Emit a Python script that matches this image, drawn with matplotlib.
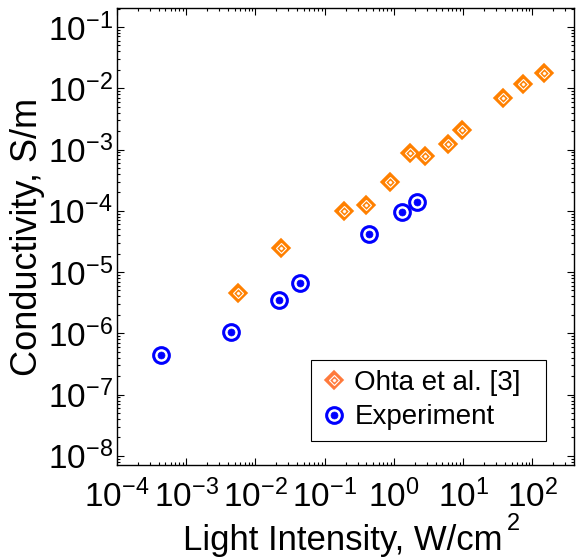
import matplotlib
matplotlib.use("Agg")
import matplotlib.pyplot as plt
from matplotlib.ticker import LogLocator, NullFormatter
from matplotlib.legend_handler import HandlerTuple

plt.rcParams['font.family'] = ['Liberation Sans', 'DejaVu Sans']
plt.rcParams['mathtext.fontset'] = 'custom'
plt.rcParams['mathtext.rm'] = 'Liberation Sans'
plt.rcParams['mathtext.it'] = 'Liberation Sans:italic'
plt.rcParams['mathtext.bf'] = 'Liberation Sans:bold'

# Ohta et al. [3] data (light intensity W/cm^2, conductivity S/m)
ohta_x = [0.0056, 0.0231, 0.19, 0.40, 0.87, 1.7, 2.84, 5.97, 9.7, 37.2, 72, 148]
ohta_y = [4.5e-6, 2.5e-5, 9.9e-5, 1.22e-4, 2.9e-4, 8.7e-4, 7.9e-4, 1.24e-3,
          2.1e-3, 7.0e-3, 1.16e-2, 1.78e-2]

# Experiment data
exp_x = [4.3e-4, 4.37e-3, 0.0218, 0.0434, 0.43, 1.29, 2.17]
exp_y = [4.5e-7, 1.07e-6, 3.5e-6, 6.6e-6, 4.2e-5, 9.5e-5, 1.4e-4]

orange = '#ff8000'
orange_leg = '#ff7a3c'
blue = '#0000ff'

fig = plt.figure(figsize=(5.76, 5.6), dpi=100)
ax = fig.add_axes([0.203, 0.1696, 0.7935, 0.8161])


def diamond(ax, x, y, col):
    a, = ax.plot(x, y, ls='none', marker='D', ms=9.5, mfc=col, mec=col, mew=1.2)
    b, = ax.plot(x, y, ls='none', marker='D', ms=5.5, mfc='none', mec='white', mew=0.8)
    c, = ax.plot(x, y, ls='none', marker='D', ms=1.6, mfc='white', mec='white', mew=0.5)
    return (a, b, c)


def ring(ax, x, y):
    a, = ax.plot(x, y, ls='none', marker='o', ms=11.3, mfc='white', mec=blue, mew=2.2)
    b, = ax.plot(x, y, ls='none', marker='o', ms=5, mfc=blue, mec=blue, mew=0.5)
    return (a, b)


diamond(ax, ohta_x, ohta_y, orange)
ring(ax, exp_x, exp_y)

# legend-only handles (legend diamond is drawn a bit lighter in the original)
h_ohta = diamond(ax, [], [], orange_leg)
h_exp = ring(ax, [], [])

ax.set_xscale('log')
ax.set_yscale('log')
ax.set_xlim(1e-4, 10 ** 2.6)
ax.set_ylim(10 ** -8.15, 10 ** -0.69)

ax.xaxis.set_major_locator(LogLocator(base=10, numticks=20))
ax.yaxis.set_major_locator(LogLocator(base=10, numticks=20))
ax.xaxis.set_minor_locator(LogLocator(base=10, subs=range(2, 10), numticks=20))
ax.yaxis.set_minor_locator(LogLocator(base=10, subs=range(2, 10), numticks=20))
ax.xaxis.set_minor_formatter(NullFormatter())
ax.yaxis.set_minor_formatter(NullFormatter())

ax.tick_params(which='both', direction='in', top=True, right=True,
               labelsize=24, width=0.8)
ax.tick_params(which='major', length=5)
ax.tick_params(which='minor', length=2.5)
ax.tick_params(axis='x', which='major', pad=10.5)
ax.tick_params(axis='y', which='major', pad=3)
for s in ax.spines.values():
    s.set_linewidth(1.0)

# x label with the raised "2" placed separately, as in the original
fig.text(0.5946, 0.0179, 'Light Intensity, W/cm', fontsize=25,
         ha='center', va='baseline')
fig.text(0.880, 0.0536, '2', fontsize=17, ha='left', va='baseline')
ax.set_ylabel('Conductivity, S/m', fontsize=26, labelpad=2)

leg = ax.legend([h_ohta, h_exp], ['Ohta et al. [3]', 'Experiment'],
                handler_map={tuple: HandlerTuple(ndivide=1)},
                loc='lower left', bbox_to_anchor=(0.4245, 0.0525, 0.514, 0.1),
                mode='expand', fontsize=20, fancybox=False, framealpha=1,
                edgecolor='black', borderaxespad=0, handlelength=0.9,
                handletextpad=0.28, labelspacing=0.3, borderpad=0.38)
leg.get_frame().set_linewidth(0.8)

fig.savefig('out.png', dpi=100)
